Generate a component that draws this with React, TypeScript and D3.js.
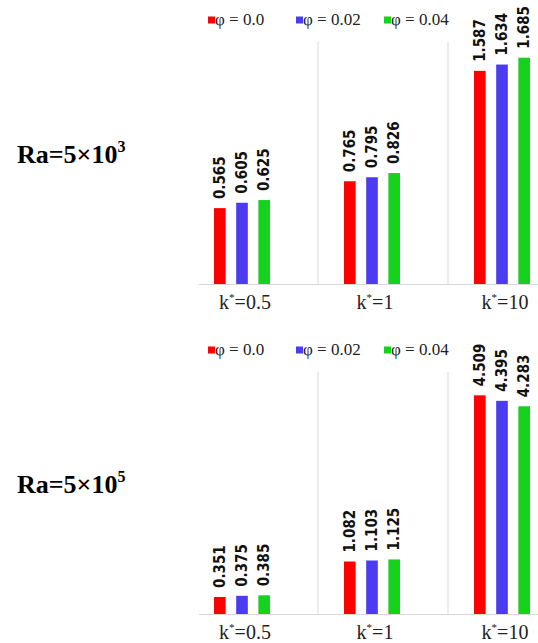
import React from "react";
import * as d3 from "d3";

const categories = ["0.5", "1", "10"];
const seriesNames = ["φ = 0.0", "φ = 0.02", "φ = 0.04"];
const seriesColors = ["#ff0000", "#4b3cf2", "#14d21e"];

// Ra = 5x10^3
const ra3Phi000 = [0.565, 0.765, 1.587];
const ra3Phi002 = [0.605, 0.795, 1.634];
const ra3Phi004 = [0.625, 0.826, 1.685];

// Ra = 5x10^5
const ra5Phi000 = [0.351, 1.082, 4.509];
const ra5Phi002 = [0.375, 1.103, 4.395];
const ra5Phi004 = [0.385, 1.125, 4.283];

const W = 538;
const H = 643;
const baseline = 284;
const gridTop = 42;
const gridOffset = 11;
const serif = "'Liberation Serif', 'Times New Roman', Times, serif";

const x = d3.scaleBand<string>().domain(categories).range([177, 567]);
const xInner = d3
  .scaleBand<number>()
  .domain([0, 1, 2])
  .range([-28, 28])
  .paddingInner(0.475)
  .paddingOuter(0);

const fmt = d3.format(".3f");

interface PanelProps {
  top: number;
  series: number[][];
  y: d3.ScaleLinear<number, number>;
  exponent: string;
}

const Panel: React.FC<PanelProps> = ({ top, series, y, exponent }) => {
  const grids = categories.slice(1).map((c) => (x(c) || 0) + gridOffset);
  return (
    <g transform={`translate(0,${top})`}>
      {/* legend */}
      {seriesNames.map((name, i) => {
        const lx = 208 + i * 88;
        return (
          <g key={name}>
            <rect x={lx} y={16.5} width={7} height={7} fill={seriesColors[i]} />
            <text x={lx + 7} y={25} fontFamily={serif} fontSize={17} fill="#222">
              {name}
            </text>
          </g>
        );
      })}

      {/* grid + axis */}
      {grids.map((gx) => (
        <line key={gx} x1={gx} x2={gx} y1={gridTop} y2={baseline} stroke="#d9d9d9" />
      ))}
      <line x1={199} x2={W} y1={baseline + 0.5} y2={baseline + 0.5} stroke="#d9d9d9" />

      {/* bars */}
      {series.map((vals, si) =>
        vals.map((v, ci) => {
          const cx = (x(categories[ci]) || 0) + x.bandwidth() / 2;
          const bx = cx + (xInner(si) || 0);
          const bw = xInner.bandwidth();
          return (
            <g key={`${si}-${ci}`}>
              <rect x={bx} y={y(v)} width={bw} height={baseline - y(v)} fill={seriesColors[si]} />
              <text
                transform={`translate(${bx + bw / 2 + 5},${y(v) - 9}) rotate(-90)`}
                fontFamily="'Liberation Sans Narrow', 'DejaVu Sans Condensed', 'Arial Narrow', sans-serif"
                fontWeight="bold"
                fontSize={15}
                fill="#111"
              >
                {fmt(v)}
              </text>
            </g>
          );
        })
      )}

      {/* category labels */}
      {categories.map((c) => (
        <text
          key={c}
          x={(x(c) || 0) + x.bandwidth() / 2 + 3}
          y={309}
          textAnchor="middle"
          fontFamily={serif}
          fontSize={20}
          fill="#222"
        >
          k
          <tspan fontSize={11} dy={-8}>
            *
          </tspan>
          <tspan dy={8}>={c}</tspan>
        </text>
      ))}

      {/* Ra label */}
      <text x={17} y={163} fontFamily={serif} fontWeight="bold" fontSize={26} fill="#000">
        Ra=5×10
        <tspan fontSize={16} dy={-11}>
          {exponent}
        </tspan>
      </text>
    </g>
  );
};

const App: React.FC = () => {
  const yTop = d3.scaleLinear().domain([0, 2]).range([baseline, baseline - 2 * 134.3]);
  const yBottom = d3.scaleLinear().domain([0, 5]).range([baseline, baseline - 5 * 48.5]);
  return (
    <div style={{ position: "absolute", left: 0, top: 0 }}>
      <svg width={W} height={H} style={{ display: "block", background: "#fff" }}>
        <Panel top={0} series={[ra3Phi000, ra3Phi002, ra3Phi004]} y={yTop} exponent="3" />
        <Panel top={330} series={[ra5Phi000, ra5Phi002, ra5Phi004]} y={yBottom} exponent="5" />
      </svg>
    </div>
  );
};

export default App;
